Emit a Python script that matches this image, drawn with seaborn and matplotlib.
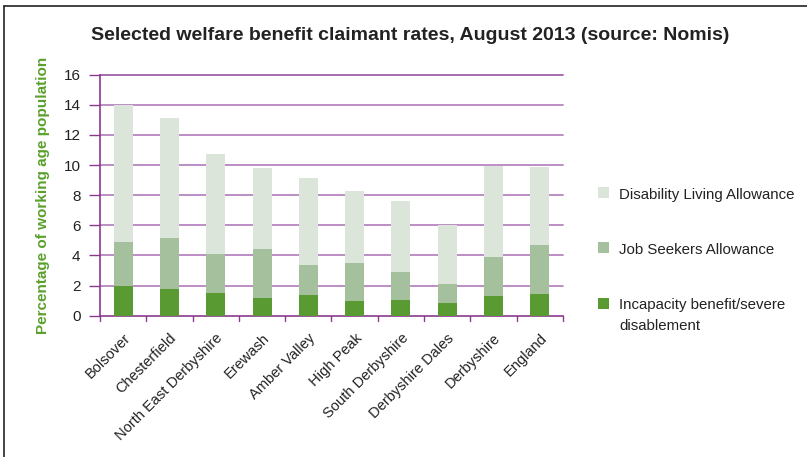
import matplotlib
matplotlib.use("Agg")
import matplotlib.pyplot as plt
import seaborn as sns
import numpy as np
import pandas as pd
from matplotlib.patches import Rectangle
from matplotlib.lines import Line2D

categories = ["Bolsover", "Chesterfield", "North East Derbyshire", "Erewash",
              "Amber Valley", "High Peak", "South Derbyshire", "Derbyshire Dales",
              "Derbyshire", "England"]
incapacity = [2.0, 1.77, 1.5, 1.18, 1.37, 0.95, 1.04, 0.84, 1.31, 1.44]
job_seekers = [2.89, 3.39, 2.6, 3.25, 2.0, 2.55, 1.86, 1.26, 2.58, 3.24]
disability = [9.08, 7.97, 6.64, 5.37, 5.77, 4.77, 4.7, 3.92, 6.05, 5.2]
series_names = ["Disability Living Allowance", "Job Seekers Allowance",
                "Incapacity benefit/severe\ndisablement"]
colors = ["#dce5da", "#a5c09c", "#5a9a32"]
yticks = [0, 2, 4, 6, 8, 10, 12, 14, 16]

sns.set_theme(style="white")
plt.rcParams['font.family'] = ['Liberation Sans', 'DejaVu Sans']

df = pd.DataFrame({"cat": categories,
                   "ib": incapacity,
                   "jsa": np.array(incapacity) + np.array(job_seekers),
                   "total": np.array(incapacity) + np.array(job_seekers) + np.array(disability)})

W, H = 807, 457
fig = plt.figure(figsize=(W / 100, H / 100), dpi=100)
ax = fig.add_axes([0.1239, 0.3092, 0.5737, 0.5273])

grid_col = "#b886c0"
axis_col = "#8a3a8e"
for v in yticks[1:]:
    ax.axhline(v, color=grid_col if v != 16 else "#a060a8", lw=1.3, zorder=0, clip_on=False)

for col, c, z in [("total", colors[0], 2), ("jsa", colors[1], 3), ("ib", colors[2], 4)]:
    sns.barplot(data=df, x="cat", y=col, color=c, width=0.41, saturation=1, ax=ax,
                zorder=z, linewidth=0, edgecolor=c)

ax.set_xlim(-0.5, len(categories) - 0.5)
ax.set_ylim(0, 16)
ax.set_yticks(yticks)
ax.set_yticklabels([str(v) for v in yticks], fontsize=11, color="#222222")
ax.tick_params(axis='y', length=8, color=axis_col, width=1.0, pad=6, direction='out', left=True)
ax.set_xticks(np.arange(len(categories)))
ax.set_xticklabels(categories, rotation=45, ha='right', rotation_mode='anchor',
                   fontsize=10.5, color="#222222")
ax.tick_params(axis='x', length=0, pad=11)
for b in np.arange(-0.5, len(categories), 1.0):
    ax.add_line(Line2D([b, b], [0, -0.35], color=axis_col, lw=1.0, clip_on=False))
ax.set_xlabel("")
ax.set_ylabel("Percentage of working age population", fontsize=11, fontweight='bold',
              color="#5aa02c", labelpad=10)
for s in ["top", "right"]:
    ax.spines[s].set_visible(False)
for s in ["left", "bottom"]:
    ax.spines[s].set_color(axis_col)
    ax.spines[s].set_linewidth(1.2)

fig.text(0.508, 0.923, "Selected welfare benefit claimant rates, August 2013 (source: Nomis)",
         ha='center', va='center', fontsize=14, fontweight='bold', color="#222222")

# legend entries: swatch aligned with first text line
legend_y = [192, 248, 303]
for name, c, yp in zip(series_names, colors, legend_y):
    fig.add_artist(Rectangle((598 / W, 1 - (yp + 5.5) / H), 11 / W, 11 / H,
                             transform=fig.transFigure, facecolor=c, edgecolor='none'))
    fig.text(619 / W, 1 - (yp - 4.5) / H, name, ha='left', va='top', fontsize=10.8,
             color="#222222", linespacing=1.6)

fig.add_artist(Line2D([4 / W, 4 / W], [0, 1 - 6 / H], color="#222222", lw=1.2))
fig.add_artist(Line2D([4 / W, 1], [1 - 6 / H, 1 - 6 / H], color="#222222", lw=1.2))

fig.savefig("out.png", dpi=100)
